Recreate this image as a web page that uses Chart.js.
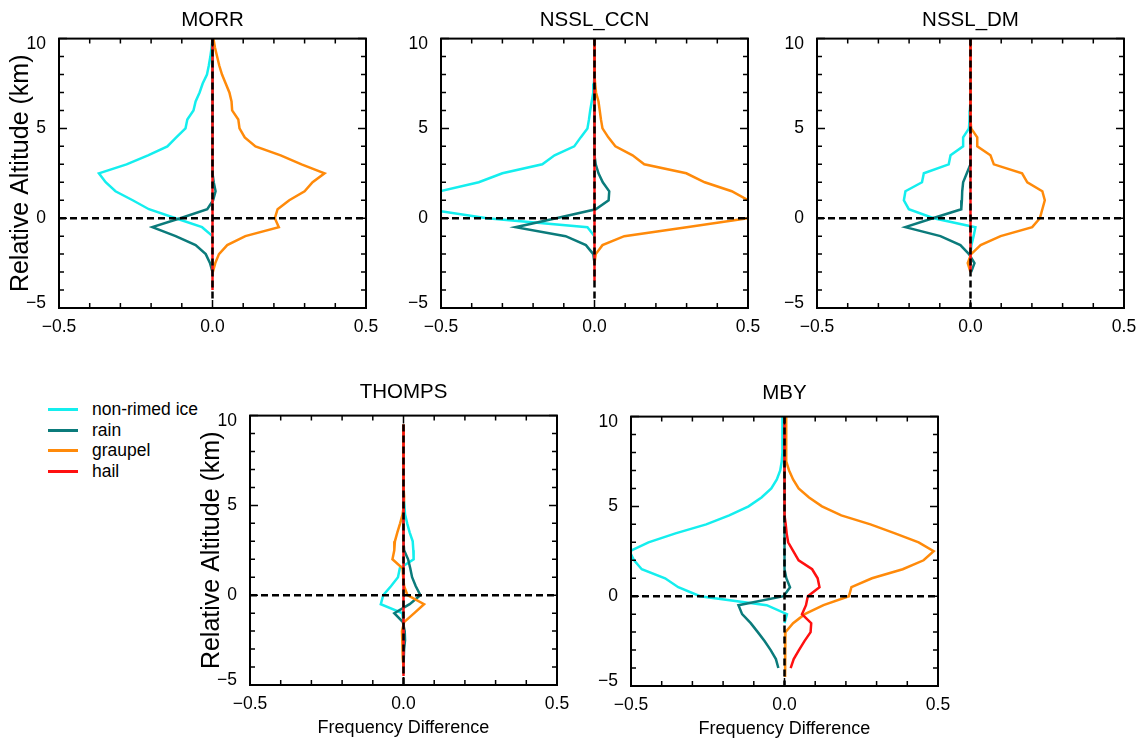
<!DOCTYPE html>
<html>
<head>
<meta charset="utf-8">
<title>Hydrometeor frequency difference profiles</title>
<script src="https://cdn.jsdelivr.net/npm/chart.js@4.4.1/dist/chart.umd.min.js"></script>
<style>
  body { margin: 0; background: #fff; overflow: hidden; }
  #page { position: relative; width: 1147px; height: 740px; font-family: "Liberation Sans", Arial, sans-serif; color: #000; }
  #page canvas { position: absolute; }
  #legend { position: absolute; left: 48px; top: 399px; font-size: 17.5px; }
  .item { display: flex; align-items: center; height: 20.7px; white-space: nowrap; }
  .swatch { width: 30px; height: 0; border-top: 3px solid; margin-right: 14px; }
</style>
</head>
<body>
<div id="page">
  <div id="legend"></div>
  <canvas id="c0" width="386" height="330"></canvas>
  <canvas id="c1" width="386" height="330"></canvas>
  <canvas id="c2" width="386" height="330"></canvas>
  <canvas id="c3" width="386" height="360"></canvas>
  <canvas id="c4" width="386" height="360"></canvas>
</div>
<script>
// altitude levels (km, relative), top to bottom
var altitudeKm = [10, 9.5, 9, 8.5, 8, 7.5, 7, 6.5, 6, 5.5, 5, 4.5, 4, 3.5, 3, 2.5, 2, 1.5, 1, 0.5,
                  0, -0.5, -1, -1.5, -2, -2.5, -3, -3.5, -4, -4.5];
var speciesNames = ["non-rimed ice", "rain", "graupel", "hail"];
var schemeNames = ["MORR", "NSSL_CCN", "NSSL_DM", "THOMPS", "MBY"];
var xTickValues = [-0.5, 0, 0.5];
var yTickValues = [-5, 0, 5, 10];

// MORR
var morrIce = [0, -0.003, -0.007, -0.012, -0.018, -0.032, -0.042, -0.055, -0.062, -0.082, -0.088, -0.118, -0.147, -0.21, -0.28,
               -0.37, -0.348, -0.316, -0.26, -0.207, -0.12, -0.034, 0, null, null, null, null, null, null, null];
var morrRain = [0, 0, 0, 0, 0, 0, 0, 0, 0, 0, 0, 0, 0, 0, 0,
                0.001, 0.004, 0.01, 0.002, -0.017, -0.105, -0.196, -0.12, -0.055, -0.022, -0.008, 0, null, null, null];
var morrGraupel = [0.003, 0.008, 0.015, 0.022, 0.031, 0.043, 0.055, 0.062, 0.064, 0.084, 0.088, 0.105, 0.14, 0.222, 0.29,
                   0.365, 0.326, 0.3, 0.25, 0.212, 0.203, 0.216, 0.107, 0.048, 0.021, 0.009, 0.001, null, null, null];
var morrHail = [0, 0, 0, 0, 0, 0, 0, 0, 0, 0, 0, 0, 0, 0, 0,
                0, 0, 0, 0, 0, 0, 0, 0, 0, 0, 0, 0, 0, 0, null];

// NSSL_CCN
var ccnIce = [0, 0, 0, 0, 0, -0.002, -0.004, -0.009, -0.014, -0.018, -0.023, -0.045, -0.066, -0.13, -0.17,
              -0.3, -0.377, -0.505, -0.62, -0.545, -0.35, -0.023, 0, null, null, null, null, null, null, null];
var ccnRain = [0, 0, 0, 0, 0, 0, 0, 0, 0, 0, 0, 0, 0, 0, 0.004,
               0.013, 0.027, 0.048, 0.046, 0.004, -0.125, -0.257, -0.094, -0.028, -0.004, 0, null, null, null, null];
var ccnGraupel = [0, 0, 0, 0, 0, 0.002, 0.005, 0.013, 0.017, 0.021, 0.026, 0.045, 0.068, 0.124, 0.162,
                  0.299, 0.359, 0.447, 0.5, 0.56, 0.5, 0.3, 0.097, 0.026, 0.004, 0, null, null, null, null];
var ccnHail = [0, 0, 0, 0, 0, 0, 0, 0, 0, 0, 0, 0, 0, 0, 0,
               0, 0, 0, 0, 0, 0, 0, 0, 0, 0, 0, 0, 0, null, null];

// NSSL_DM
var dmIce = [0, 0, 0, 0, 0, 0, 0, -0.001, -0.002, -0.003, -0.005, -0.024, -0.024, -0.065, -0.071,
             -0.152, -0.158, -0.212, -0.217, -0.201, -0.12, 0.016, 0.01, 0.003, 0, null, null, null, null, null];
var dmRain = [0, 0, 0, 0, 0, 0, 0, 0, 0, 0, 0, 0, 0, 0, 0,
              -0.012, -0.024, -0.027, -0.028, -0.03, -0.123, -0.212, -0.098, -0.033, -0.005, 0.013, 0.002, null, null, null];
var dmGraupel = [0, 0, 0, 0, 0, 0, 0, 0, 0, 0.001, 0.002, 0.022, 0.022, 0.065, 0.076,
                 0.168, 0.185, 0.234, 0.242, 0.234, 0.226, 0.201, 0.098, 0.033, 0.002, -0.009, 0, null, null, null];
var dmHail = [0, 0, 0, 0, 0, 0, 0, 0, 0, 0, 0, 0, 0, 0, 0,
              0, 0, 0, 0, 0, 0, 0, 0, 0, 0, 0, 0, null, null, null];

// THOMPS
var thompsIce = [null, 0, 0, 0, 0, 0, 0, 0, -0.001, 0, 0.003, 0.005, 0.012, 0.02, 0.03,
                 0.032, 0.033, -0.012, -0.018, -0.041, -0.066, -0.074, -0.004, 0, null, null, null, null, null, null];
var thompsRain = [null, 0, 0, 0, 0, 0, 0, 0, 0, 0, 0, 0, 0, 0, 0,
                  0.002, 0.015, 0.022, 0.028, 0.04, 0.055, 0.02, -0.03, -0.002, 0.004, 0.005, 0.002, 0.001, 0, null];
var thompsGraupel = [null, 0, 0, 0, 0, 0, 0, 0, 0.001, 0.002, 0.001, -0.003, -0.011, -0.02, -0.028,
                     -0.03, -0.036, -0.003, -0.001, 0.002, 0.013, 0.067, 0.035, 0.002, -0.005, -0.004, -0.003, -0.002, 0, null];
var thompsHail = [null, 0, 0, 0, 0, 0, 0, 0, 0, 0, 0, 0, 0, 0, 0,
                  0, 0, 0, 0, 0, 0, 0, 0, 0, 0, 0, 0, 0, 0, 0];

// MBY
var mbyIce = [-0.005, -0.006, -0.006, -0.007, -0.008, -0.009, -0.014, -0.025, -0.043, -0.075, -0.117, -0.18, -0.255, -0.355, -0.443,
              -0.505, -0.49, -0.465, -0.389, -0.346, -0.275, -0.058, 0.008, 0, null, null, null, null, null, null];
var mbyRain = [0, 0, 0, 0, 0, 0, 0, 0, 0, 0, 0, 0, 0, 0, 0,
               0, 0, 0.001, 0.006, 0.018, -0.003, -0.15, -0.138, -0.11, -0.087, -0.065, -0.045, -0.028, -0.02, null];
var mbyGraupel = [0.005, 0.005, 0.005, 0.005, 0.006, 0.007, 0.015, 0.028, 0.046, 0.08, 0.122, 0.185, 0.28, 0.36, 0.437,
                  0.486, 0.453, 0.385, 0.285, 0.218, 0.21, 0.127, 0.066, 0.028, 0.003, 0.002, 0.002, 0.002, 0.002, 0.002];
var mbyHail = [0, 0, 0, 0, 0, 0, 0, 0, 0, 0, 0, 0.001, 0.004, 0.007, 0.012,
               0.029, 0.046, 0.09, 0.108, 0.114, 0.076, 0.07, 0.057, 0.087, 0.085, 0.065, 0.047, 0.03, 0.02, null];

// reference lines at zero difference
var zeroLineTop = [10, 10, 10, 9.5, 10];
var zeroLineBottom = [-4.5, -4.5, -5, -5, -5];

var profiles = [
  [morrIce, morrRain, morrGraupel, morrHail],
  [ccnIce, ccnRain, ccnGraupel, ccnHail],
  [dmIce, dmRain, dmGraupel, dmHail],
  [thompsIce, thompsRain, thompsGraupel, thompsHail],
  [mbyIce, mbyRain, mbyGraupel, mbyHail]
];

var speciesColors = ["#14EEEE", "#0B7B7B", "#FF8A0A", "#FF1010"];
var fontFamily = '"Liberation Sans", Arial, sans-serif';

// canvas placement; plot area is 307 x 270 in every panel
var panelBoxes = [
  { left: 0,   top: 8,   height: 330, titleGap: 6,  axisHeight: 30, yTitle: true,  xTitle: false },
  { left: 382, top: 8,   height: 330, titleGap: 6,  axisHeight: 30, yTitle: false, xTitle: false },
  { left: 758, top: 8,   height: 330, titleGap: 6,  axisHeight: 30, yTitle: false, xTitle: false },
  { left: 191, top: 380, height: 360, titleGap: 11, axisHeight: 55, yTitle: true,  xTitle: true },
  { left: 572, top: 381, height: 360, titleGap: 11, axisHeight: 55, yTitle: false, xTitle: true }
];

function minusSign(s) {
  return s.replace("-", "\u2212");
}

function profile(values) {
  var pts = [];
  values.forEach(function (v, i) {
    if (v !== null) pts.push({ x: v, y: altitudeKm[i] });
  });
  return pts;
}

// box round the plot with inward ticks on all four sides
var boxTicks = {
  id: "boxTicks",
  beforeDraw: function (chart) {
    // keep the end labels of the altitude axis inside the box
    var items = chart.scales.y.getLabelItems();
    if (!items.shifted) {
      items[0].options.translation[1] -= 5;
      items[items.length - 1].options.translation[1] += 6;
      items.shifted = true;
    }
  },
  afterDatasetsDraw: function (chart) {
    var ctx = chart.ctx, a = chart.chartArea, x = chart.scales.x, y = chart.scales.y;
    ctx.save();
    ctx.strokeStyle = "#000";
    ctx.lineWidth = 2;
    ctx.strokeRect(a.left, a.top, a.right - a.left, a.bottom - a.top);
    ctx.lineWidth = 1.5;
    ctx.beginPath();
    for (var i = 0; i <= 10; i++) {
      var px = x.getPixelForValue(-0.5 + i / 10);
      var lx = i % 5 === 0 ? 8 : 5;
      ctx.moveTo(px, a.bottom); ctx.lineTo(px, a.bottom - lx);
      ctx.moveTo(px, a.top); ctx.lineTo(px, a.top + lx);
    }
    for (var k = -5; k <= 10; k++) {
      var py = y.getPixelForValue(k);
      var ly = k % 5 === 0 ? 8 : 5;
      ctx.moveTo(a.left, py); ctx.lineTo(a.left + ly, py);
      ctx.moveTo(a.right, py); ctx.lineTo(a.right - ly, py);
    }
    ctx.stroke();
    ctx.restore();
  }
};

function makePanel(p) {
  var box = panelBoxes[p];
  var canvas = document.getElementById("c" + p);
  canvas.style.left = box.left + "px";
  canvas.style.top = box.top + "px";

  var datasets = speciesNames.map(function (name, k) {
    return {
      label: name,
      data: profile(profiles[p][k]),
      borderColor: speciesColors[k],
      borderWidth: 2.5,
      pointRadius: 0,
      showLine: true,
      order: 5 - k
    };
  });
  datasets.push({
    label: "zero",
    data: [{ x: 0, y: zeroLineTop[p] }, { x: 0, y: zeroLineBottom[p] }],
    borderColor: "#000", borderWidth: 2.5, borderDash: [7, 4],
    pointRadius: 0, showLine: true, order: 0
  });
  datasets.push({
    label: "zero altitude",
    data: [{ x: xTickValues[0], y: 0 }, { x: xTickValues[2], y: 0 }],
    borderColor: "#000", borderWidth: 2.5, borderDash: [7, 4],
    pointRadius: 0, showLine: true, order: 0
  });

  return new Chart(canvas, {
    type: "scatter",
    data: { datasets: datasets },
    plugins: [boxTicks],
    options: {
      responsive: false,
      animation: false,
      events: [],
      layout: { padding: { right: 20 } },
      plugins: {
        legend: { display: false },
        tooltip: { enabled: false },
        title: {
          display: true,
          text: schemeNames[p],
          fullSize: false,
          color: "#000",
          font: { family: fontFamily, size: 20.5, weight: "normal" },
          padding: { top: 0, bottom: box.titleGap }
        }
      },
      scales: {
        x: {
          type: "linear",
          min: -0.5,
          max: 0.5,
          afterBuildTicks: function (s) {
            s.ticks = xTickValues.map(function (v) { return { value: v }; });
          },
          afterFit: function (s) { s.height = box.axisHeight; },
          ticks: {
            callback: function (v) { return minusSign(Number(v).toFixed(1)); },
            color: "#000",
            font: { family: fontFamily, size: 17.5 },
            padding: 1,
            maxRotation: 0,
            autoSkip: false
          },
          grid: { display: false },
          border: { display: false },
          title: {
            display: box.xTitle,
            text: "Frequency Difference",
            color: "#000",
            font: { family: fontFamily, size: 18 },
            padding: { top: 0, bottom: 1 }
          }
        },
        y: {
          type: "linear",
          min: -5,
          max: 10,
          afterBuildTicks: function (s) {
            s.ticks = yTickValues.map(function (v) { return { value: v }; });
          },
          afterFit: function (s) { s.width = 59; },
          ticks: {
            callback: function (v) { return minusSign(String(v)); },
            color: "#000",
            font: { family: fontFamily, size: 17.5 },
            padding: 5,
            autoSkip: false
          },
          grid: { display: false },
          border: { display: false },
          title: {
            display: box.yTitle,
            text: "Relative Altitude (km)",
            color: "#000",
            font: { family: fontFamily, size: 25 },
            padding: { top: 6, bottom: 0 }
          }
        }
      }
    }
  });
}

// species key, to the left of the THOMPS panel
var legendDiv = document.getElementById("legend");
speciesNames.forEach(function (name, k) {
  var row = document.createElement("div");
  row.className = "item";
  var sw = document.createElement("span");
  sw.className = "swatch";
  sw.style.borderTopColor = speciesColors[k];
  var txt = document.createElement("span");
  txt.textContent = name;
  row.appendChild(sw);
  row.appendChild(txt);
  legendDiv.appendChild(row);
});

for (var p = 0; p < schemeNames.length; p++) {
  makePanel(p);
}
</script>
</body>
</html>
